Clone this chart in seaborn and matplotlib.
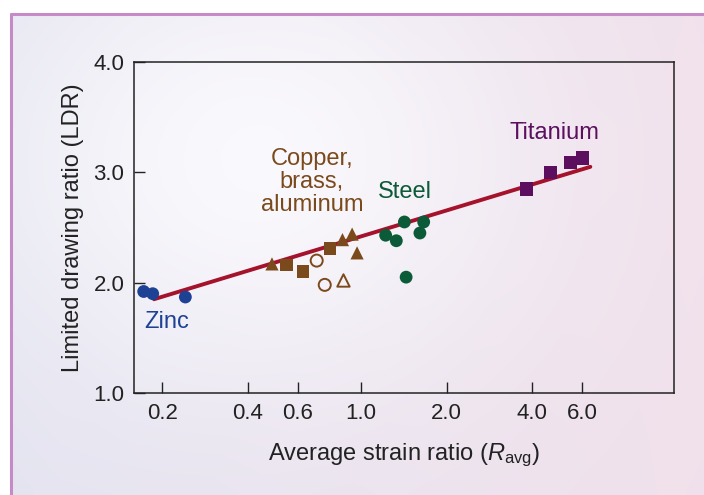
import numpy as np
import pandas as pd
import seaborn as sns
import matplotlib.pyplot as plt
from matplotlib.ticker import FixedLocator, NullLocator

# --- data ---
zinc_r = [0.172, 0.185, 0.241]
zinc_ldr = [1.92, 1.90, 1.87]

copper_sq_r = [0.546, 0.625, 0.778]
copper_sq_ldr = [2.16, 2.10, 2.31]
copper_tri_r = [0.486, 0.86, 0.93, 0.968]
copper_tri_ldr = [2.17, 2.39, 2.44, 2.27]
copper_open_circ_r = [0.698, 0.745]
copper_open_circ_ldr = [2.20, 1.98]
copper_open_tri_r = [0.867]
copper_open_tri_ldr = [2.02]

steel_r = [1.22, 1.33, 1.42, 1.66, 1.61, 1.44]
steel_ldr = [2.43, 2.38, 2.55, 2.55, 2.45, 2.05]

titanium_r = [3.81, 4.63, 5.46, 6.01]
titanium_ldr = [2.85, 3.00, 3.09, 3.13]

fit_r = [0.187, 6.4]
fit_ldr = [1.85, 3.05]

x_ticks = [0.2, 0.4, 0.6, 1.0, 2.0, 4.0, 6.0]
x_tick_labels = ["0.2", "0.4", "0.6", "1.0", "2.0", "4.0", "6.0"]
y_ticks = [1.0, 2.0, 3.0, 4.0]
y_tick_labels = ["1.0", "2.0", "3.0", "4.0"]

BLUE = "#1d4295"
BROWN = "#7b4a1c"
GREEN = "#0b5a38"
PURPLE = "#5b0f5e"
RED = "#a5122b"
INK = "#222222"

sns.set_theme(style="ticks")
plt.rcParams["font.family"] = ["Liberation Sans", "DejaVu Sans"]
plt.rcParams["mathtext.fontset"] = "custom"
plt.rcParams["mathtext.rm"] = "Liberation Sans"
plt.rcParams["mathtext.it"] = "Liberation Sans:italic"

fig = plt.figure(figsize=(7.04, 4.95), dpi=100, facecolor="white")

# soft gradient panel behind the chart
bg = fig.add_axes([10 / 704, 0, 694 / 704, 481 / 495], zorder=0)
h, w = 120, 170
yy, xx = np.mgrid[0:1:h * 1j, 0:1:w * 1j]
base = np.array([0.89, 0.89, 0.94])
pink = np.array([0.95, 0.88, 0.92])
white = np.array([0.99, 0.99, 1.0])
t = np.clip(xx * 0.9, 0, 1)[..., None]
img = base * (1 - t) + pink * t
glow = np.exp(-(((xx - 0.35) / 0.4) ** 2 + ((yy - 0.3) / 0.5) ** 2))[..., None]
img = img * (1 - 0.85 * glow) + white * 0.85 * glow
bg.imshow(img, aspect="auto", extent=[0, 1, 0, 1], interpolation="bicubic")
bg.set_xlim(0, 1)
bg.set_ylim(0, 1)
bg.axis("off")
fig.add_artist(plt.Line2D([11 / 704, 11 / 704], [0, 481 / 495], color="#c68ac6", lw=2.2))
fig.add_artist(plt.Line2D([11 / 704, 1], [481 / 495, 481 / 495], color="#c68ac6", lw=2.2))

ax = fig.add_axes([134 / 704, 102 / 495, 540 / 704, 331 / 495], zorder=2)
ax.set_facecolor("none")

sns.lineplot(x=fit_r, y=fit_ldr, color=RED, linewidth=2.8, ax=ax, zorder=2)

filled = dict(edgecolor="none", zorder=3)
sns.scatterplot(x=zinc_r, y=zinc_ldr, color=BLUE, marker="o", s=85, ax=ax, **filled)
sns.scatterplot(x=copper_sq_r, y=copper_sq_ldr, color=BROWN, marker="s", s=80, ax=ax, **filled)
sns.scatterplot(x=copper_tri_r, y=copper_tri_ldr, color=BROWN, marker="^", s=90, ax=ax, **filled)
sns.scatterplot(x=copper_open_circ_r, y=copper_open_circ_ldr, color=BROWN, marker="o", s=75,
                facecolor="none", edgecolor=BROWN, linewidth=1.4, ax=ax, zorder=3)
sns.scatterplot(x=copper_open_tri_r, y=copper_open_tri_ldr, color=BROWN, marker="^", s=80,
                facecolor="none", edgecolor=BROWN, linewidth=1.4, ax=ax, zorder=3)
sns.scatterplot(x=steel_r, y=steel_ldr, color=GREEN, marker="o", s=85, ax=ax, **filled)
sns.scatterplot(x=titanium_r, y=titanium_ldr, color=PURPLE, marker="s", s=95, ax=ax, **filled)

ax.set_xscale("log")
ax.set_xlim(0.159, 12.6)
ax.set_ylim(1.0, 4.0)
ax.xaxis.set_major_locator(FixedLocator(x_ticks))
ax.xaxis.set_minor_locator(NullLocator())
ax.set_xticklabels(x_tick_labels)
ax.set_yticks(y_ticks)
ax.set_yticklabels(y_tick_labels)
ax.tick_params(direction="in", length=8, width=1, color=INK, labelsize=16, labelcolor=INK, pad=7)

for side in ["left", "right", "top", "bottom"]:
    ax.spines[side].set_visible(True)
    ax.spines[side].set_color(INK)
    ax.spines[side].set_linewidth(1.1)

ax.set_xlabel(r"Average strain ratio ($R_{\mathrm{avg}}$)", fontsize=17, color=INK, labelpad=13)
ax.set_ylabel("Limited drawing ratio (LDR)", fontsize=17, color=INK, labelpad=7)

ax.text(0.207, 1.64, "Zinc", color=BLUE, fontsize=17, ha="center", va="center")
ax.text(0.671, 2.91, "Copper,\nbrass,\naluminum", color=BROWN, fontsize=17,
        ha="center", va="center", multialignment="center", linespacing=1.05)
ax.text(1.42, 2.82, "Steel", color=GREEN, fontsize=17, ha="center", va="center")
ax.text(4.80, 3.36, "Titanium", color=PURPLE, fontsize=17, ha="center", va="center")

fig.savefig("out.png", dpi=100, facecolor="white")
